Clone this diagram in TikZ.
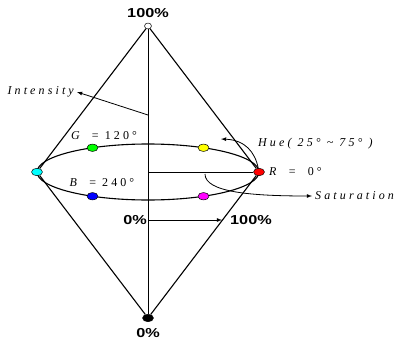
\documentclass[tikz,border=0pt]{standalone}
\usepackage{fontspec}
\usepackage{graphicx}
\usetikzlibrary{shapes.geometric}
\newfontfamily\pctfont{Liberation Sans}
\newfontfamily\lblfont[LetterSpace=26]{Liberation Serif}
\newcommand{\ringrx}{111}
\newcommand{\ringry}{28}
\newcommand{\wide}[1]{\scalebox{1.25}[1]{#1}}
\definecolor{ptred}{RGB}{255,0,0}
\definecolor{ptyellow}{RGB}{255,255,0}
\definecolor{ptgreen}{RGB}{0,255,0}
\definecolor{ptcyan}{RGB}{0,255,255}
\definecolor{ptblue}{RGB}{0,0,255}
\definecolor{ptmagenta}{RGB}{255,0,255}

\tikzset{
  dot/.style={draw=black, line width=0.5pt, ellipse, inner sep=0pt,
    minimum width=11pt, minimum height=7.5pt},
  pct/.style={font=\pctfont\bfseries\fontsize{13}{14}\selectfont, inner sep=1pt},
  lbl/.style={font=\lblfont\fontsize{12}{13}\selectfont, inner sep=3pt},
  ilbl/.style={lbl, font=\lblfont\itshape\fontsize{12}{13}\selectfont},
}

\begin{document}
\begin{tikzpicture}[x=1pt, y=-1pt, line join=round]
\useasboundingbox (0,0) rectangle (397,343);

% draw ring
\coordinate (ctr) at (148,172);
\draw[line width=1.1pt] (ctr) ellipse [x radius=\ringrx, y radius=\ringry];

% draw points
\node[dot, fill=white, minimum width=7pt, minimum height=6pt] (top) at (148,26) {};
\node[dot, fill=black] (bot) at (148,318) {};
\foreach \ang/\col/\nm in {0/ptred/R, 60/ptyellow/Y, 120/ptgreen/G, 180/ptcyan/C, 240/ptblue/B, 300/ptmagenta/M}
  \node[dot, fill=\col] (\nm) at ([shift={(-\ang:\ringrx\space and \ringry)}]ctr) {};

% draw double cone
\draw[line width=1.1pt] (top) -- (C) -- (bot) -- (R) -- (top);
\draw[line width=0.8pt] (top) -- (bot);
\draw[line width=0.8pt] (ctr) -- (R);

% percent labels
\node[pct] (pcttop) at (148,13) {\wide{100\%}};
\node[pct] (pctbot) at (148,333) {\wide{0\%}};
\coordinate (zero) at (148,220);
\coordinate (full) at (222,220);
\node[pct, anchor=east] (pctzero) at (zero) {\wide{0\%}};
\node[pct, anchor=west] (pctfull) at (229,220) {\wide{100\%}};
\draw[line width=0.8pt, -latex] (zero) -- (full);

% hue labels
\node[lbl] (glbl) at (104,136) {\itshape G\upshape\ \ = 120°};
\node[lbl] (blbl) at (102,183) {\itshape B\upshape\ \ = 240°};
\node[lbl, anchor=west] (rlbl) at (266,172) {\itshape R\upshape\ \ = \ 0°};

% intensity
\coordinate (inta) at (148,115);
\node[ilbl, anchor=east] (intensity) at (77,92) {Intensity};
\draw[line width=0.8pt, -latex] (inta) -- (intensity.east);

% hue
\coordinate (huetip) at (221,139);
\node[ilbl, anchor=west] (hue) at (255,144) {Hue(\ 25°\ \textasciitilde\ 75°\ )};
\draw[line width=0.8pt, -latex] (R) .. controls (255,152) and (245,140) .. (huetip);

% saturation
\coordinate (sata) at (205,174);
\node[ilbl, anchor=west] (saturation) at (312,196) {Saturation};
\draw[line width=0.8pt, -latex] (sata) .. controls (205,192) and (250,196) .. (saturation.west);

\end{tikzpicture}
\end{document}
